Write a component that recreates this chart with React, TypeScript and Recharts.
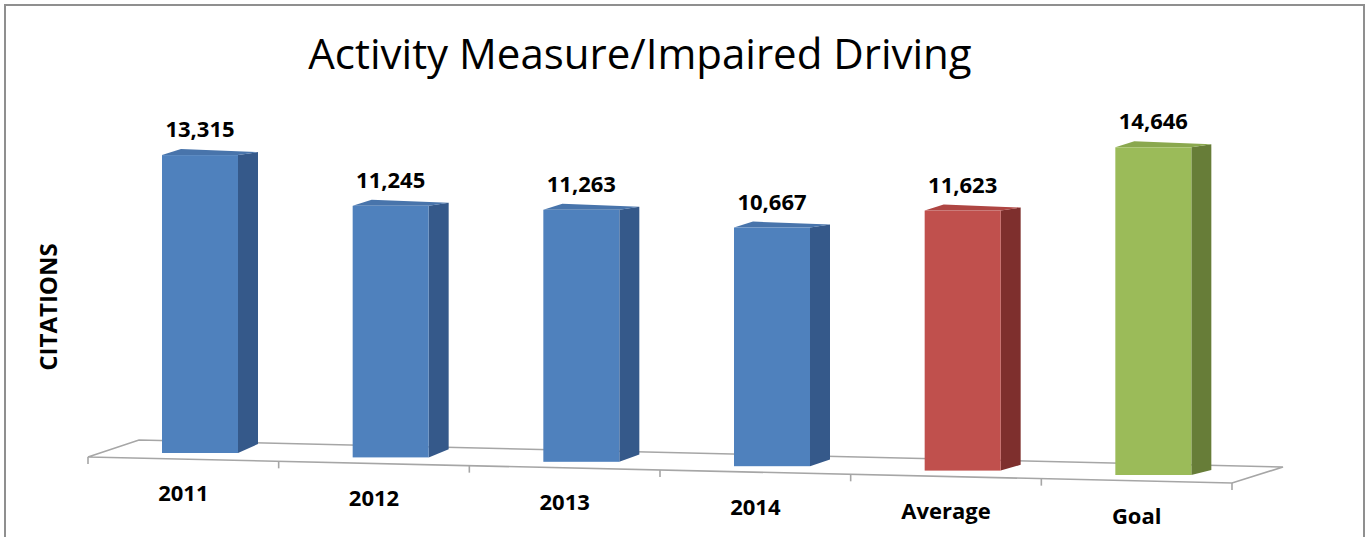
import React from "react";
import { BarChart, Bar, XAxis, YAxis, LabelList, Customized } from "recharts";

const categories = ["2011", "2012", "2013", "2014", "Average", "Goal"];
const citations = [13315, 11245, 11263, 10667, 11623, 14646];

const data = categories.map((name, i) => ({ name, citations: citations[i] }));

const WIDTH = 1365;
const HEIGHT = 537;
const XAXIS_HEIGHT = 30;
const MARGIN = { top: 95, right: 116, bottom: 84 - XAXIS_HEIGHT, left: 105 };
const BAND = (WIDTH - MARGIN.left - MARGIN.right) / categories.length;
const PLOT_BOTTOM = HEIGHT - MARGIN.bottom - XAXIS_HEIGHT;
// fake perspective: each category sits a bit lower than the previous one
const SLOPE = 4.4;
const DEPTH_X = 20;
const FONT = "'Open Sans', 'Liberation Sans', sans-serif";

const palette: Record<string, { front: string; top: string; side: string }> = {
  blue: { front: "#4F81BD", top: "#4874AB", side: "#35598A" },
  red: { front: "#C0504D", top: "#AE4542", side: "#7E2F2D" },
  green: { front: "#9BBB59", top: "#8AA84E", side: "#677D38" },
};
const barTone = ["blue", "blue", "blue", "blue", "red", "green"];

const Bar3D = (props: any) => {
  const { x, y, width, height, index } = props;
  const dy = index * SLOPE;
  const top = y + dy;
  const bottom = y + height + dy;
  const right = x + width;
  const tone = palette[barTone[index]];
  const rise = 9 - index * 0.8;
  return (
    <g>
      <polygon
        points={`${right},${top} ${right + DEPTH_X},${top - 3} ${right + DEPTH_X},${bottom - rise} ${right},${bottom}`}
        fill={tone.side}
      />
      <polygon
        points={`${x},${top} ${right},${top} ${right + DEPTH_X},${top - 3} ${x + 19},${top - 6}`}
        fill={tone.top}
      />
      <rect x={x} y={top} width={width} height={height} fill={tone.front} />
    </g>
  );
};

const ValueLabel = (props: any) => {
  const { x, y, width, value, index } = props;
  return (
    <text
      x={x + width / 2}
      y={y + index * SLOPE - 18}
      textAnchor="middle"
      fontFamily={FONT}
      fontWeight={700}
      fontSize={22}
      fill="#000"
    >
      {Number(value).toLocaleString("en-US")}
    </text>
  );
};

const CategoryTick = (props: any) => {
  const { x, payload, index } = props;
  return (
    <text
      x={x - 17}
      y={PLOT_BOTTOM + 48 + index * 4.6}
      textAnchor="middle"
      fontFamily={FONT}
      fontWeight={700}
      fontSize={22}
      fill="#000"
    >
      {payload.value}
    </text>
  );
};

const Floor = () => {
  const n = categories.length;
  const front = Array.from({ length: n + 1 }, (_, i) => [MARGIN.left - 17 + i * BAND, 457 + i * 4.33]);
  const bl = [MARGIN.left + 34, 440];
  const br = [MARGIN.left + 34 + n * BAND, 467];
  const fl = front[0];
  const fr = front[n];
  return (
    <g>
      <polygon
        points={`${fl[0]},${fl[1]} ${bl[0]},${bl[1]} ${br[0]},${br[1]} ${fr[0]},${fr[1]}`}
        fill="#fff"
        stroke="#a6a6a6"
        strokeWidth={1.6}
      />
      {front.map(([px, py], i) => (
        <line key={i} x1={px} y1={py} x2={px} y2={py + 7} stroke="#a6a6a6" strokeWidth={1.6} />
      ))}
    </g>
  );
};

const Titles = () => (
  <g>
    <text x={640} y={69} textAnchor="middle" fontFamily={FONT} fontSize={42} fill="#000">
      Activity Measure/Impaired Driving
    </text>
    <text
      x={47}
      y={307}
      textAnchor="middle"
      dominantBaseline="central"
      transform="rotate(-90, 47, 307)"
      fontFamily={FONT}
      fontWeight={700}
      fontSize={24}
      fill="#000"
    >
      CITATIONS
    </text>
  </g>
);

export default function App() {
  return (
    <div style={{ position: "relative", width: WIDTH, height: HEIGHT, overflow: "hidden", background: "#fff" }}>
      <style>{"body{margin:0}"}</style>
      <div
        style={{
          position: "absolute",
          left: 4,
          top: 4,
          width: 1357,
          height: 560,
          border: "2px solid #8f8f8f",
        }}
      />
      <div style={{ position: "absolute", left: 0, top: 0 }}>
        <BarChart width={WIDTH} height={HEIGHT} data={data} margin={MARGIN}>
          <Customized component={<Floor />} />
          <Customized component={<Titles />} />
          <XAxis
            dataKey="name"
            height={XAXIS_HEIGHT}
            axisLine={false}
            tickLine={false}
            interval={0}
            tick={<CategoryTick />}
          />
          <YAxis hide domain={[0, 16000]} />
          <Bar dataKey="citations" barSize={76} shape={<Bar3D />} isAnimationActive={false}>
            <LabelList dataKey="citations" content={<ValueLabel />} />
          </Bar>
        </BarChart>
      </div>
    </div>
  );
}
